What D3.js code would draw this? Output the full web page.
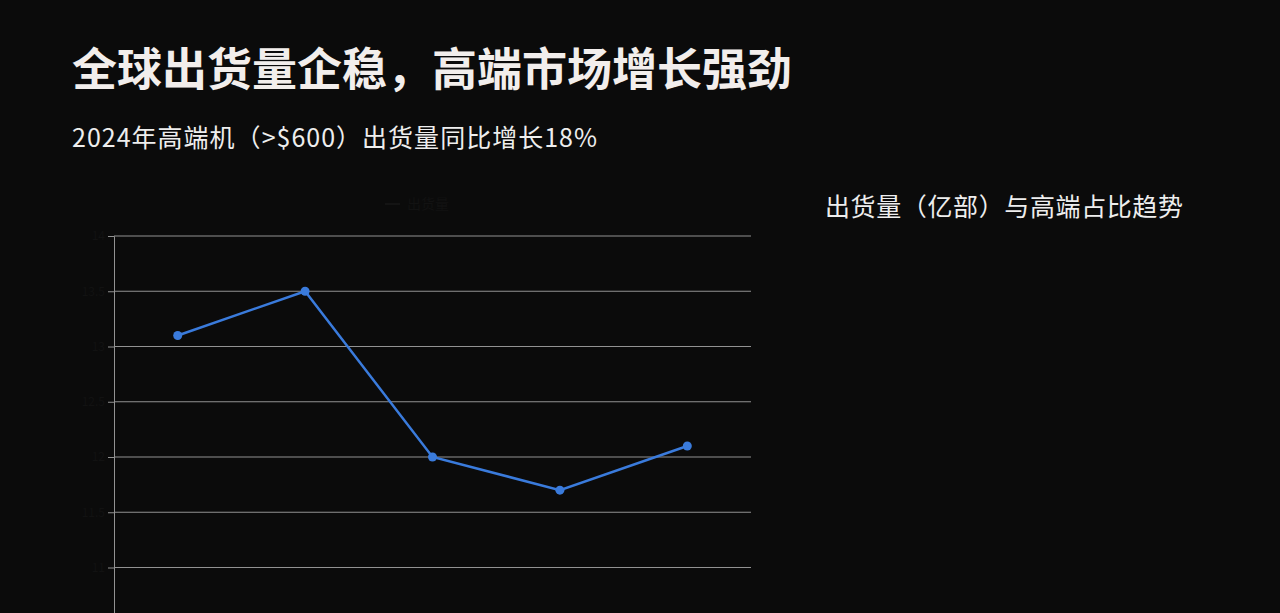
<!DOCTYPE html>
<html>
<head>
<meta charset="utf-8">
<script src="https://cdn.jsdelivr.net/npm/d3@7/dist/d3.min.js"></script>
<style>
  html, body { margin: 0; padding: 0; background: #0b0b0b; overflow: hidden; }
  svg { display: block; font-family: "Noto Sans CJK SC", "Noto Sans", sans-serif; }
</style>
</head>
<body>
<script>
const title = "全球出货量企稳，高端市场增长强劲";
const subtitle = "2024年高端机（>$600）出货量同比增长18%";
const sideTitle = "出货量（亿部）与高端占比趋势";
const seriesName = "出货量";
const years = ["2020", "2021", "2022", "2023", "2024"];
const shipments = [13.1, 13.5, 12.0, 11.7, 12.1];
const yTicks = [10, 10.5, 11, 11.5, 12, 12.5, 13, 13.5, 14];

const W = 1280, H = 613;
const svg = d3.select("body").append("svg").attr("width", W).attr("height", H);
svg.append("rect").attr("width", W).attr("height", H).attr("fill", "#0b0b0b");

svg.append("text").attr("x", 72).attr("y", 86).text(title)
  .attr("fill", "#f2eeec").attr("font-size", 45).attr("font-weight", 700);
svg.append("text").attr("x", 72).attr("y", 147).text(subtitle)
  .attr("fill", "#eeeeee").attr("font-size", 25)
  .attr("textLength", 525).attr("lengthAdjust", "spacing");
svg.append("text").attr("x", 825).attr("y", 216).text(sideTitle)
  .attr("fill", "#eeeeee").attr("font-size", 25)
  .attr("textLength", 358).attr("lengthAdjust", "spacing");

const pL = 114, pR = 751, pT = 236, pB = 678;
const x = d3.scalePoint().domain(years).range([pL, pR]).padding(0.5);
const y = d3.scaleLinear().domain([10, 14]).range([pB, pT]);

// grid
const grid = svg.append("g");
grid.selectAll("line").data(yTicks).join("line")
  .attr("x1", pL).attr("x2", pR)
  .attr("y1", d => y(d)).attr("y2", d => y(d))
  .attr("stroke", "#929292").attr("stroke-width", 1.1);

// y axis
const yAxis = svg.append("g").attr("transform", `translate(${pL},0)`)
  .call(d3.axisLeft(y).tickValues(yTicks).tickSize(6).tickFormat(d3.format("")));
yAxis.select(".domain").attr("stroke", "#929292");
yAxis.selectAll(".tick line").attr("stroke", "#929292");
yAxis.selectAll(".tick text").attr("fill", "#121212").attr("font-size", 12)
  .attr("font-family", "Noto Sans CJK SC, sans-serif")
  .filter(d => y(d) > H - 12).remove();

// x axis (lies below the visible area; labels not visible in the reference)
const xAxis = svg.append("g").attr("transform", `translate(0,${pB})`)
  .call(d3.axisBottom(x).tickSize(0).tickFormat(""));
xAxis.select(".domain").attr("stroke", "#929292");

// legend
const lg = svg.append("g").attr("transform", "translate(385,204)");
lg.append("line").attr("x1", 0).attr("x2", 15).attr("stroke", "#141414").attr("stroke-width", 2);
lg.append("text").attr("x", 22).attr("y", 5).text(seriesName)
  .attr("fill", "#121212").attr("font-size", 14);

// line
const data = years.map((yr, i) => ({ yr, v: shipments[i] }));
svg.append("path").datum(data)
  .attr("fill", "none").attr("stroke", "#3a7bdc").attr("stroke-width", 2.5)
  .attr("d", d3.line().x(d => x(d.yr)).y(d => y(d.v)));
svg.append("g").selectAll("circle").data(data).join("circle")
  .attr("cx", d => x(d.yr)).attr("cy", d => y(d.v)).attr("r", 4.5)
  .attr("fill", "#3a7bdc");
</script>
</body>
</html>
